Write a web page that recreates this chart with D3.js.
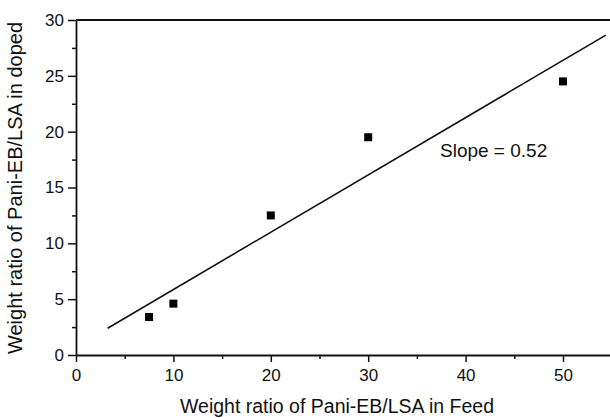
<!doctype html>
<html lang="en">
<head>
<meta charset="utf-8">
<title>Pani-EB/LSA weight ratio</title>
<script src="https://cdn.jsdelivr.net/npm/d3@7"></script>
<style>
  body { margin: 0; background: #fff; }
  text { font-family: "Liberation Sans", Arial, sans-serif; fill: #111; }
</style>
</head>
<body>
<script>
// data
var feedRatio  = [7.5, 10, 20, 30, 50];
var dopedRatio = [3.4, 4.6, 12.5, 19.5, 24.5];
var fitX = [3.25, 54.4];
var fitY = [2.4, 28.65];
var xTicks = [0, 10, 20, 30, 40, 50];
var yTicks = [0, 5, 10, 15, 20, 25, 30];
var slopeLabel = "Slope = 0.52";

var W = 610, H = 418;
var margin = {top: 20, left: 76, bottom: 63};

var svg = d3.select("body").append("svg")
    .attr("width", W)
    .attr("height", H);

var x = d3.scaleLinear().domain([0, 55]).range([margin.left, margin.left + 55 * 9.74]);
var y = d3.scaleLinear().domain([0, 30]).range([H - margin.bottom, margin.top]);

// frame (right side falls off the picture)
svg.append("line")
   .attr("x1", x(0)).attr("x2", x(55))
   .attr("y1", y(30)).attr("y2", y(30))
   .attr("stroke", "#111").attr("stroke-width", 1.8);
svg.append("line")
   .attr("x1", x(55)).attr("x2", x(55))
   .attr("y1", y(0)).attr("y2", y(30))
   .attr("stroke", "#111").attr("stroke-width", 1.8);

// x axis
var xAxis = svg.append("g")
   .attr("transform", "translate(0," + y(0) + ")")
   .call(d3.axisBottom(x).tickValues(xTicks).tickSize(7).tickSizeOuter(0).tickPadding(7));
svg.append("g")
   .attr("transform", "translate(0," + y(0) + ")")
   .call(d3.axisBottom(x).tickValues(d3.range(5, 55, 10)).tickSize(4).tickSizeOuter(0).tickFormat(""))
   .select(".domain").remove();

// y axis
var yAxis = svg.append("g")
   .attr("transform", "translate(" + x(0) + ",0)")
   .call(d3.axisLeft(y).tickValues(yTicks).tickSize(8).tickSizeOuter(0).tickPadding(4));
svg.append("g")
   .attr("transform", "translate(" + x(0) + ",0)")
   .call(d3.axisLeft(y).tickValues(d3.range(2.5, 30, 5)).tickSize(4).tickSizeOuter(0).tickFormat(""))
   .select(".domain").remove();

svg.selectAll(".domain").attr("stroke", "#111").attr("stroke-width", 1.8);
svg.selectAll(".tick line").attr("stroke", "#111").attr("stroke-width", 1.5);
svg.selectAll(".tick text")
   .style("font-family", "'Liberation Sans', Arial, sans-serif")
   .style("font-size", "17px")
   .attr("fill", "#111");

// fitted line
svg.append("line")
   .attr("x1", x(fitX[0])).attr("y1", y(fitY[0]))
   .attr("x2", x(fitX[1])).attr("y2", y(fitY[1]))
   .attr("stroke", "#111").attr("stroke-width", 1.6);

// points
svg.selectAll("rect.pt")
   .data(feedRatio)
   .enter()
   .append("rect")
   .attr("class", "pt")
   .attr("x", d => x(d) - 4)
   .attr("y", (d, i) => y(dopedRatio[i]) - 4)
   .attr("width", 8)
   .attr("height", 8)
   .attr("fill", "#000");

svg.append("text")
   .attr("x", 440)
   .attr("y", 157)
   .style("font-size", "19px")
   .text(slopeLabel);

// axis titles
svg.append("text")
   .attr("x", 337)
   .attr("y", 413)
   .attr("text-anchor", "middle")
   .style("font-size", "19.5px")
   .text("Weight ratio of Pani-EB/LSA in Feed");

svg.append("text")
   .attr("transform", "translate(22,188) rotate(-90)")
   .attr("text-anchor", "middle")
   .style("font-size", "20px")
   .text("Weight ratio of Pani-EB/LSA in doped");
</script>
</body>
</html>
